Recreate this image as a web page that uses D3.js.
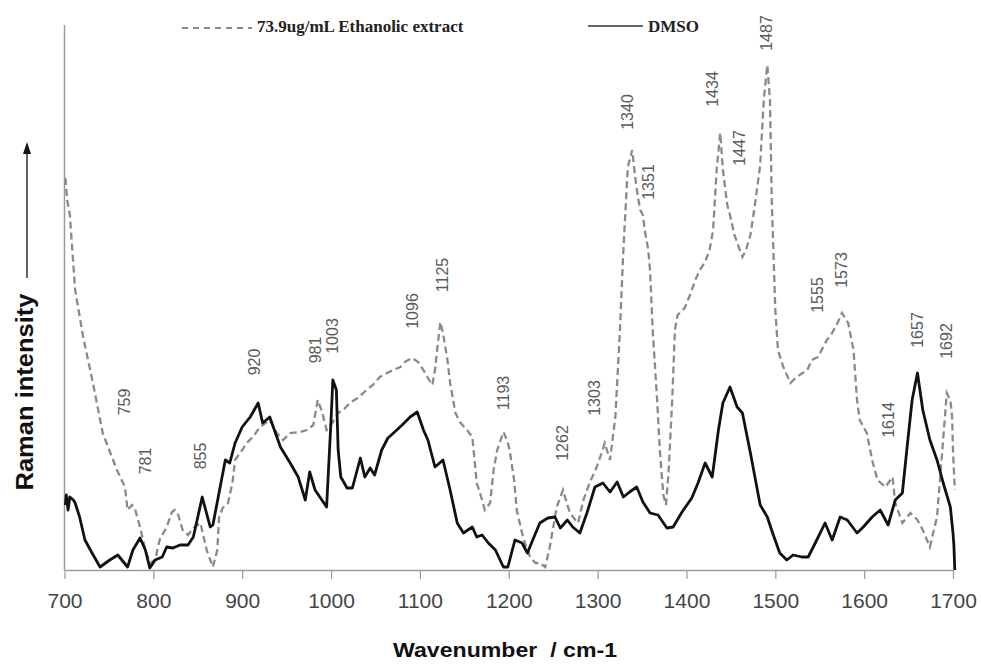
<!DOCTYPE html>
<html>
<head>
<meta charset="utf-8">
<script src="https://cdn.jsdelivr.net/npm/d3@7"></script>
<style>
  body { margin: 0; background: #fff; }
  svg { display: block; }
</style>
</head>
<body>
<svg id="chart"></svg>
<script>
// Wavenumber (cm-1) and intensity (arbitrary units)
const dmsoWn = [701,702,704,706,710,712,717,723,731,740,751,760,771,777,785,791,796,802,810,815,822,830,839,845,855,864,867,881,886,892,900,909,918,923,931,943,954,963,971,976,982,995,1000,1002,1006,1008,1011,1018,1024,1033,1038,1044,1049,1057,1064,1074,1080,1089,1097,1104,1109,1117,1126,1134,1142,1149,1159,1164,1170,1177,1185,1194,1199,1207,1215,1221,1227,1235,1244,1252,1258,1266,1272,1280,1288,1297,1306,1314,1322,1329,1336,1344,1351,1359,1368,1378,1385,1395,1406,1413,1421,1429,1436,1441,1449,1457,1463,1472,1483,1491,1497,1505,1513,1520,1530,1537,1545,1556,1564,1573,1581,1592,1599,1609,1618,1627,1635,1643,1648,1654,1660,1666,1674,1682,1689,1697,1700,1701,1702];
const dmsoVal = [65,75,60,73,70,67,53,30,17,3,10,15,3,20,32,20,2,10,13,23,22,25,25,33,73,43,45,110,107,127,143,153,167,147,153,123,107,93,70,98,80,63,150,190,180,120,93,82,82,112,93,102,95,120,132,140,145,153,158,140,130,103,110,80,47,37,43,33,35,27,20,3,3,30,27,17,30,47,52,53,42,50,43,37,57,83,87,78,88,73,78,83,68,57,55,42,43,58,72,87,107,93,140,167,183,163,157,117,65,53,37,17,10,15,13,13,27,47,30,53,50,37,43,53,60,45,70,77,120,170,197,160,130,110,87,63,37,25,0];

const ethWn = [701,703,706,712,721,732,743,759,768,771,776,779,785,791,796,802,807,815,821,824,828,833,839,845,853,860,867,872,874,878,884,889,892,900,905,912,920,931,939,946,954,965,973,980,985,990,995,1002,1008,1016,1021,1030,1040,1047,1055,1063,1070,1078,1083,1091,1098,1104,1109,1114,1117,1119,1123,1126,1131,1134,1140,1145,1153,1159,1164,1170,1173,1179,1183,1187,1194,1198,1201,1206,1209,1215,1219,1224,1230,1235,1241,1246,1254,1261,1266,1269,1275,1278,1284,1291,1299,1305,1308,1314,1320,1325,1329,1334,1339,1342,1345,1348,1351,1353,1357,1359,1362,1367,1370,1374,1377,1380,1384,1387,1390,1398,1404,1410,1415,1421,1426,1430,1434,1438,1441,1446,1449,1454,1458,1463,1467,1472,1477,1483,1487,1491,1494,1496,1500,1503,1509,1517,1524,1536,1541,1548,1558,1564,1570,1575,1582,1588,1592,1595,1603,1609,1615,1624,1632,1635,1643,1652,1660,1666,1674,1682,1688,1693,1697,1699,1700,1702];
const ethVal = [392,370,355,280,233,187,137,100,83,60,65,62,43,20,7,10,30,43,58,60,55,40,35,42,47,20,3,20,53,62,67,87,110,120,127,133,143,150,137,130,137,138,140,145,170,158,140,148,157,162,167,172,180,185,193,197,200,203,208,212,208,200,192,185,200,217,248,237,210,187,157,148,140,133,87,70,60,67,100,120,138,130,120,90,60,37,25,13,7,7,3,22,63,80,65,57,50,47,70,87,103,118,127,110,153,237,320,403,420,395,375,360,355,340,320,300,240,170,120,75,65,100,170,240,255,262,275,290,300,308,320,340,400,437,400,365,355,335,325,313,320,335,365,405,470,505,470,370,260,220,203,187,193,200,210,213,230,237,247,257,247,220,170,150,137,110,90,83,93,67,47,57,50,40,23,53,120,177,170,153,120,80];

const xTicks = [700, 800, 900, 1000, 1100, 1200, 1300, 1400, 1500, 1600, 1700];

// Peak annotations and where their centres sit (wavenumber, intensity)
const peakText = ["759","781","855","920","981","1003","1096","1125","1193","1262","1303","1340","1351","1434","1447","1487","1555","1573","1614","1657","1692"];
const peakAtWn = [768,791,853,914,982,1002,1092,1125,1194,1260,1297,1334,1357,1429,1460,1490,1548,1575,1627,1660,1693];
const peakAtVal = [168,109,114,208,220,234,259,295,177,127,172,458,388,481,422,537,275,300,150,240,229];

const W = 981, H = 664;
const svg = d3.select("#chart").attr("width", W).attr("height", H);

const x = d3.scaleLinear().domain([700, 1700]).range([64.5, 953]);
const y = d3.scaleLinear().domain([0, 545]).range([570, 25]);

// axes
svg.append("line")
    .attr("x1", x(700)).attr("x2", x(700))
    .attr("y1", y(545)).attr("y2", y(0))
    .attr("stroke", "#9a9a9a").attr("stroke-width", 1.5);

const xAxis = svg.append("g")
    .attr("transform", `translate(0,${y(0)})`)
    .call(d3.axisBottom(x).tickValues(xTicks).tickSize(9).tickSizeOuter(0).tickFormat(d3.format("d")));
xAxis.select(".domain").attr("stroke", "#9a9a9a").attr("stroke-width", 1.5);
xAxis.selectAll(".tick line").attr("stroke", "#9a9a9a").attr("stroke-width", 1.2);
xAxis.selectAll(".tick text")
    .attr("y", 38).attr("dy", 0)
    .attr("fill", "#444")
    .style("font-family", "Arial, 'Liberation Sans', sans-serif")
    .style("font-size", "21px");

// series
const line = (wn, val) => d3.line()
    .x((d, i) => x(wn[i]))
    .y((d, i) => y(val[i]))(wn);

svg.append("path")
    .attr("d", line(ethWn, ethVal))
    .attr("fill", "none")
    .attr("stroke", "#8a8a8a")
    .attr("stroke-width", 2.3)
    .attr("stroke-dasharray", "7,4");

svg.append("path")
    .attr("d", line(dmsoWn, dmsoVal))
    .attr("fill", "none")
    .attr("stroke", "#111")
    .attr("stroke-width", 2.8)
    .attr("stroke-linejoin", "round");

// peak labels
svg.append("g").selectAll("text")
    .data(peakText)
    .enter().append("text")
    .attr("transform", (d, i) => `translate(${x(peakAtWn[i])},${y(peakAtVal[i])}) rotate(-90)`)
    .attr("text-anchor", "middle")
    .attr("dominant-baseline", "central")
    .attr("fill", "#5a5a5a")
    .style("font-family", "Arial, 'Liberation Sans', sans-serif")
    .style("font-size", "16px")
    .text(d => d);

// axis titles
svg.append("text")
    .attr("x", 505).attr("y", 657)
    .attr("text-anchor", "middle")
    .attr("fill", "#111")
    .attr("xml:space", "preserve")
    .attr("textLength", 224)
    .attr("lengthAdjust", "spacingAndGlyphs")
    .style("font-family", "Arial, 'Liberation Sans', sans-serif")
    .style("font-size", "21px")
    .style("font-weight", "bold")
    .text("Wavenumber  / cm-1");

svg.append("text")
    .attr("transform", "translate(33,392) rotate(-90)")
    .attr("text-anchor", "middle")
    .attr("fill", "#111")
    .attr("textLength", 197)
    .attr("lengthAdjust", "spacingAndGlyphs")
    .style("font-family", "Arial, 'Liberation Sans', sans-serif")
    .style("font-size", "23px")
    .style("font-weight", "bold")
    .text("Raman intensity");

// intensity arrow
svg.append("line")
    .attr("x1", 27).attr("x2", 27).attr("y1", 278).attr("y2", 152)
    .attr("stroke", "#333").attr("stroke-width", 1.5);
svg.append("path")
    .attr("d", "M27,142 L23,154 L31,154 Z")
    .attr("fill", "#111");

// legend
const legend = svg.append("g")
    .style("font-family", "'Times New Roman', 'Liberation Serif', serif")
    .style("font-size", "17px")
    .style("font-weight", "bold");
legend.append("line")
    .attr("x1", 182).attr("x2", 252).attr("y1", 28).attr("y2", 28)
    .attr("stroke", "#8a8a8a").attr("stroke-width", 2).attr("stroke-dasharray", "6,5");
legend.append("text").attr("x", 257).attr("y", 32).attr("fill", "#222")
    .text("73.9ug/mL Ethanolic extract");
legend.append("line")
    .attr("x1", 588).attr("x2", 643).attr("y1", 26).attr("y2", 26)
    .attr("stroke", "#333").attr("stroke-width", 1.5);
legend.append("text").attr("x", 648).attr("y", 32).attr("fill", "#222")
    .text("DMSO");
</script>
</body>
</html>
